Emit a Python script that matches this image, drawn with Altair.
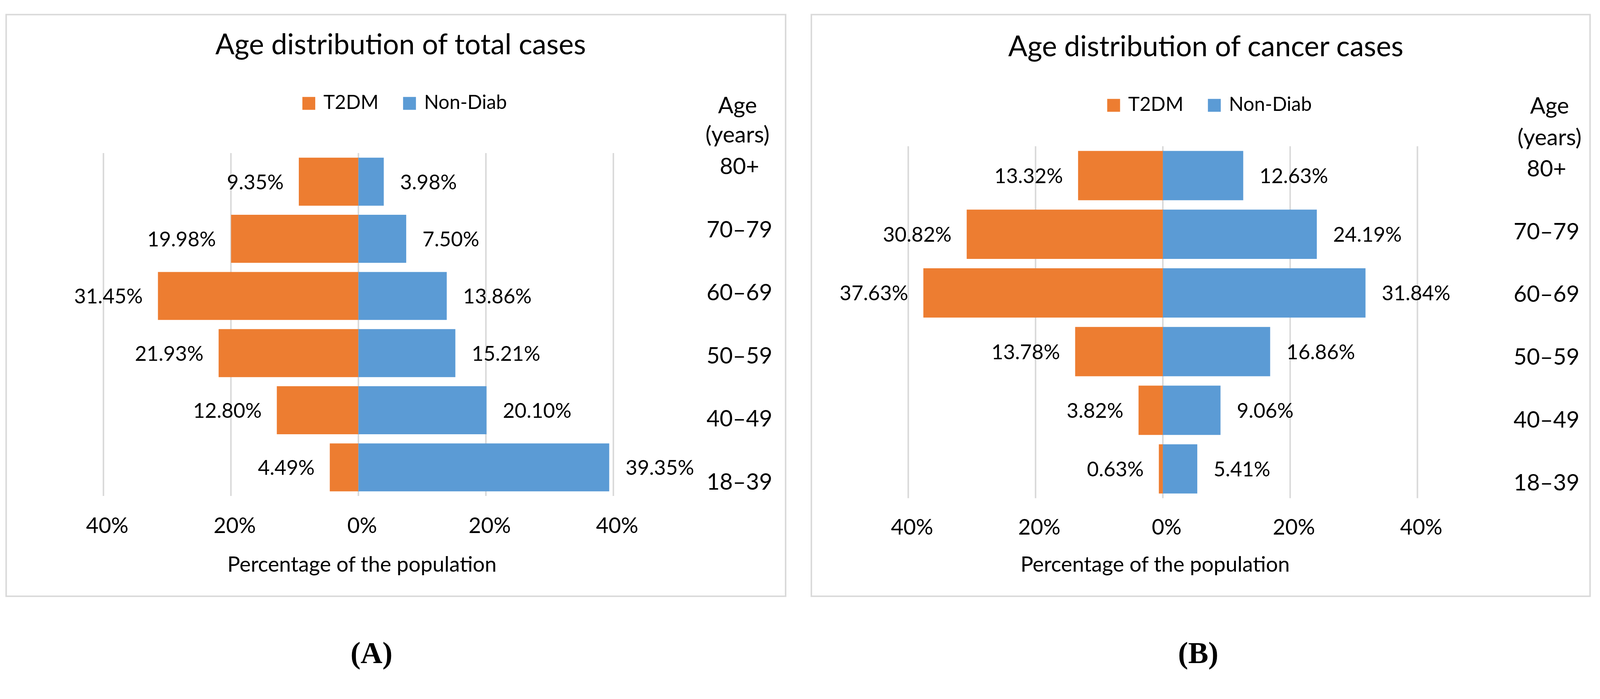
import altair as alt
import pandas as pd

ages = ["80+", "70–79", "60–69", "50–59", "40–49", "18–39"]
groups = ["T2DM", "Non-Diab"]
total_t2dm = [9.35, 19.98, 31.45, 21.93, 12.80, 4.49]
total_nondiab = [3.98, 7.50, 13.86, 15.21, 20.10, 39.35]
cancer_t2dm = [13.32, 30.82, 37.63, 13.78, 3.82, 0.63]
cancer_nondiab = [12.63, 24.19, 31.84, 16.86, 9.06, 5.41]
x_ticks = [-40, -20, 0, 20, 40]
titles = ["Age distribution of total cases", "Age distribution of cancer cases"]
tags = ["(A)", "(B)"]
x_title = "Percentage of the population"
age_title = "Age\n(years)"

FONT = "Lato"
ORANGE = "#ED7D31"
BLUE = "#5B9BD5"
GRID = "#D9D9D9"
DY = -28  # vertical correction


def make_df(t2dm, nond):
    rows = []
    for a, v in zip(ages, t2dm):
        rows.append({"age": a, "group": "T2DM", "pct": v, "signed": -v})
    for a, v in zip(ages, nond):
        rows.append({"age": a, "group": "Non-Diab", "pct": v, "signed": v})
    return pd.DataFrame(rows)


def panel(df, title, tag, L):
    yr = [L["yr"][0] + DY, L["yr"][1] + DY]
    xs = alt.Scale(domain=[-40, 40], range=L["xr"], nice=False, zero=False)
    ys = alt.Scale(domain=ages, range=yr, paddingInner=0.16, paddingOuter=0.08)
    xenc = alt.X("signed:Q", scale=xs, axis=None)
    yenc = alt.Y("age:N", scale=ys, axis=None)

    one = pd.DataFrame({"t": [title]})
    frame = alt.Chart(one).mark_rect(fillOpacity=0, stroke=GRID, strokeWidth=4).encode(
        x=alt.value(L["fx"][0]), x2=alt.value(L["fx"][1]),
        y=alt.value(max(2, L["fy"][0] + DY)), y2=alt.value(L["fy"][1] + DY))

    tick_df = pd.DataFrame({"tick": x_ticks})
    grid = alt.Chart(tick_df).mark_rule(color=GRID, strokeWidth=4).encode(
        x=alt.X("tick:Q", scale=xs, axis=None),
        y=alt.value(yr[0]), y2=alt.value(yr[1]))
    tick_lab = alt.Chart(tick_df).transform_calculate(
        lbl="abs(datum.tick) + '%'"
    ).mark_text(fontSize=57, font=FONT, align="center", baseline="alphabetic", dx=10, color="black").encode(
        x=alt.X("tick:Q", scale=xs, axis=None), y=alt.value(L["tick_y"] + DY), text="lbl:N")

    base = alt.Chart(df)
    bars = base.mark_bar().encode(
        x=xenc, y=yenc,
        color=alt.Color(
            "group:N", scale=alt.Scale(domain=groups, range=[ORANGE, BLUE]),
            legend=alt.Legend(
                orient="none", legendX=L["lx"], legendY=L["ly"] + DY, direction="horizontal",
                title=None, symbolType="square", symbolSize=1156, symbolStrokeWidth=0,
                labelFontSize=51, labelFont=FONT, labelOffset=13, columnPadding=56,
                labelLimit=2000, padding=0, labelColor="black",
            ),
        ),
    )
    lab_t = base.transform_filter("datum.group == 'T2DM'").transform_calculate(
        lbl="format(datum.pct, '.2f') + '%'"
    ).mark_text(align="right", dx=-40, dy=20, baseline="alphabetic", fontSize=54, font=FONT, color="black").encode(
        x=xenc, y=yenc, text="lbl:N")
    lab_n = base.transform_filter("datum.group == 'Non-Diab'").transform_calculate(
        lbl="format(datum.pct, '.2f') + '%'"
    ).mark_text(align="left", dx=43, dy=20, baseline="alphabetic", fontSize=54, font=FONT, color="black").encode(
        x=xenc, y=yenc, text="lbl:N")

    ttl = alt.Chart(one).mark_text(fontSize=75, font=FONT, align="center", baseline="alphabetic", color="black").encode(
        text="t:N", x=alt.value(L["title"][0]), y=alt.value(L["title"][1] + DY))
    xt = alt.Chart(pd.DataFrame({"t": [x_title]})).mark_text(
        fontSize=56, font=FONT, align="center", baseline="alphabetic", color="black").encode(
        text="t:N", x=alt.value(L["xt"][0]), y=alt.value(L["xt"][1] + DY))
    tg = alt.Chart(pd.DataFrame({"t": [tag]})).mark_text(
        fontSize=80, font="Liberation Serif", fontWeight="bold", align="center", baseline="alphabetic", color="black"
    ).encode(text="t:N", x=alt.value(L["tag"][0]), y=alt.value(L["tag"][1] + DY))

    age_hdr = alt.Chart(pd.DataFrame({"t": [age_title]})).mark_text(
        fontSize=60, font=FONT, align="center", baseline="alphabetic", lineBreak="\n",
        lineHeight=L["age_lh"], color="black").encode(
        text="t:N", x=alt.value(L["age_hdr"][0]), y=alt.value(L["age_hdr"][1] + DY))
    age_lab = alt.Chart(pd.DataFrame({"age": ages})).mark_text(
        fontSize=60, font=FONT, align="center", baseline="alphabetic", color="black").encode(
        y=alt.Y("age:N", scale=alt.Scale(type="point", domain=ages,
                                         range=[L["age_r"][0] + DY, L["age_r"][1] + DY], padding=0), axis=None),
        x=alt.value(L["age_x"]), text="age:N")

    return [frame, grid, bars, lab_t, lab_n, tick_lab, ttl, xt, tg, age_hdr, age_lab]


# coordinates are page pixels minus the 8px page margin
LA = dict(xr=[265, 1612], yr=[396, 1302], fx=[8, 2067], fy=[10, 1567],
          title=[1050, 135], lx=782, ly=239, tick_y=1400, xt=[948, 1502], tag=[973, 1744],
          age_x=1945, age_r=[452, 1285], age_hdr=[1940, 291], age_lh=77)
LB = dict(xr=[2391, 3736], yr=[378, 1308], fx=[2135, 4192], fy=[12, 1567],
          title=[3177, 140], lx=2908, ly=244, tick_y=1404, xt=[3043, 1502], tag=[3157, 1744],
          age_x=4077, age_r=[458, 1287], age_hdr=[4085, 292], age_lh=83)

layers = panel(make_df(total_t2dm, total_nondiab), titles[0], tags[0], LA) + \
    panel(make_df(cancer_t2dm, cancer_nondiab), titles[1], tags[1], LB)

chart = alt.layer(*layers).resolve_scale(
    x="independent", y="independent", color="independent"
).properties(
    width=4210, height=1774, padding=0, autosize=alt.AutoSizeParams(type="none")
).configure(font=FONT).configure_view(stroke=None)

chart.save("out.html", embed_options={"renderer": "svg", "actions": False})
